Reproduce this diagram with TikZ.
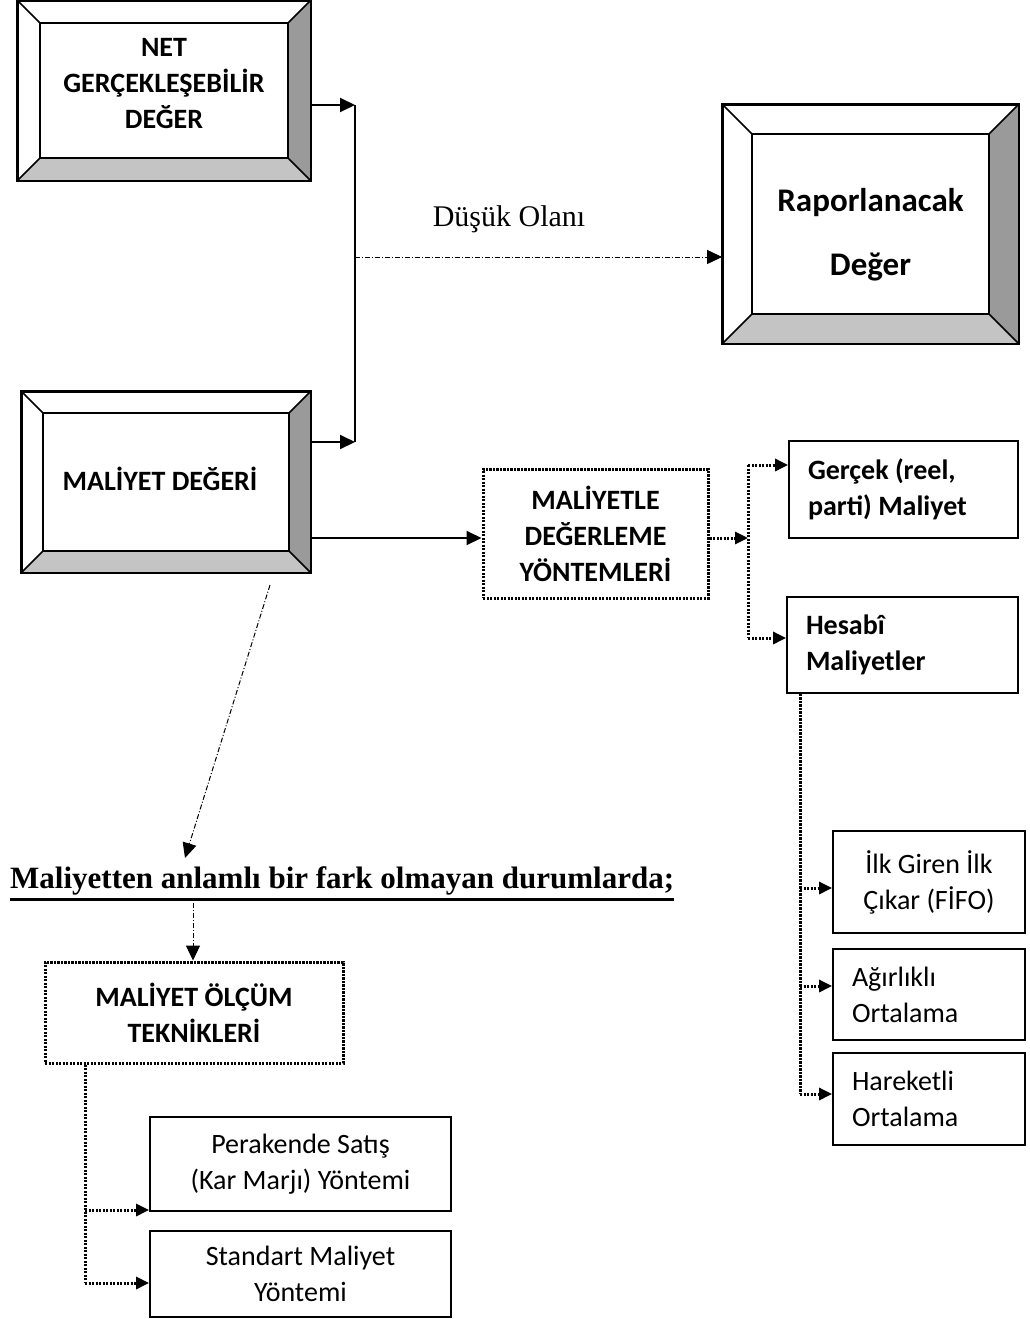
\documentclass[tikz,border=0pt]{standalone}
\usepackage{fontspec}
\setmainfont{Carlito}
\newfontfamily\serif{Liberation Serif}
\usetikzlibrary{arrows.meta}
\definecolor{bevdark}{HTML}{9A9A9A}
\definecolor{bevlight}{HTML}{C4C4C4}
\newcommand\bevelframe[2]{%
  \fill[bevdark] (#1.north east) -- ([shift={(-#2pt,-#2pt)}]#1.north east) -- ([shift={(-#2pt,#2pt)}]#1.south east) -- (#1.south east) -- cycle;
  \fill[bevlight] (#1.south west) -- ([shift={(#2pt,#2pt)}]#1.south west) -- ([shift={(-#2pt,#2pt)}]#1.south east) -- (#1.south east) -- cycle;
  \draw[line width=1.8pt] ([shift={(#2pt,-#2pt)}]#1.north west) rectangle ([shift={(-#2pt,#2pt)}]#1.south east);
  \draw[line width=1.5pt] (#1.north west) -- ++(#2pt,-#2pt);
  \draw[line width=1.5pt] (#1.north east) -- ++(-#2pt,-#2pt);
  \draw[line width=1.5pt] (#1.south west) -- ++(#2pt,#2pt);
  \draw[line width=1.5pt] (#1.south east) -- ++(-#2pt,#2pt);
  \draw[line width=1.8pt] (#1.north west) rectangle (#1.south east);
}
\begin{document}
\begin{tikzpicture}[x=1pt,y=-1pt,
  bev/.style={draw, line width=1.8pt, fill=white, inner sep=0pt},
  bevtext/.style={inner sep=0pt, align=center, font=\bfseries\fontsize{28}{36}\selectfont},
  plainbox/.style={draw, line width=1.8pt, inner sep=0pt, align=center,
    font=\fontsize{28}{36}\selectfont},
  boldbox/.style={plainbox, font=\bfseries\fontsize{28}{36}\selectfont},
  dotbox/.style={draw, line width=3pt, dash pattern=on 2.4pt off 1.1pt, inner sep=0pt,
    align=center, font=\bfseries\fontsize{28}{36}\selectfont},
  tip/.style={-{Triangle[length=15pt,width=14pt]}},
  stip/.style={-{Triangle[length=13pt,width=12pt]}},
  solidc/.style={line width=2pt},
  dotc/.style={line width=3pt, dash pattern=on 2.4pt off 1.1pt},
  dashdot/.style={line width=1pt, dash pattern=on 5pt off 2pt on 1pt off 2pt}]
\useasboundingbox (0,0) rectangle (1029,1319);

% bevelled boxes
\node[bev, minimum width=292pt, minimum height=179pt] (net) at (164,90.5) {};
\bevelframe{net}{23}
\node[bevtext] (nettext) at (164,84) {NET\\GERÇEKLEŞEBİLİR\\DEĞER};
\node[bev, minimum width=295pt, minimum height=238pt] (rap) at (870.5,224) {};
\bevelframe{rap}{30}
\node[bevtext, font=\bfseries\fontsize{33}{64}\selectfont] (raptext) at (870.5,235)
  {Raporlanacak\\Değer};
\node[bev, minimum width=288pt, minimum height=180pt] (mal) at (166,482) {};
\bevelframe{mal}{22}
\node[bevtext] (maltext) at (160,479) {MALİYET DEĞERİ};

% dotted boxes
\node[dotbox, minimum width=225pt, minimum height=129pt] (yont) at (595.5,533.5)
  {MALİYETLE\\DEĞERLEME\\YÖNTEMLERİ};
\node[dotbox, minimum width=298pt, minimum height=101pt] (olcum) at (194,1012.5)
  {MALİYET ÖLÇÜM\\TEKNİKLERİ};

% plain boxes
\node[boldbox, minimum height=97pt, text width=191pt, inner xsep=19pt, align=flush left] (gercek) at (903.5,489.5)
  {Gerçek (reel,\\parti) Maliyet};
\node[boldbox, minimum height=96pt, text width=193pt, inner xsep=19pt, align=flush left] (hesabi) at (902.5,645)
  {Hesabî\\Maliyetler};
\node[plainbox, minimum width=192pt, minimum height=102pt] (ilk) at (929,882)
  {İlk Giren İlk\\Çıkar (FİFO)};
\node[plainbox, minimum height=91pt, text width=154pt, inner xsep=19pt, align=flush left] (agir) at (929,994.5)
  {Ağırlıklı\\Ortalama};
\node[plainbox, minimum height=92pt, text width=154pt, inner xsep=19pt, align=flush left] (hare) at (929,1099)
  {Hareketli\\Ortalama};
\node[plainbox, minimum width=301pt, minimum height=94pt] (pera) at (300.5,1164)
  {Perakende Satış\\(Kar Marjı) Yöntemi};
\node[plainbox, minimum width=301pt, minimum height=86pt] (stand) at (300.5,1274)
  {Standart Maliyet\\Yöntemi};

% texts
\node[font=\serif\fontsize{30}{36}\selectfont, inner sep=0pt] (dusuk) at (509,219) {Düşük Olanı};
\node[font=\serif\bfseries\fontsize{31}{37}\selectfont, inner sep=0pt, anchor=base west] (title) at (10,888)
  {Maliyetten anlamlı bir fark olmayan durumlarda;};
\draw[line width=3pt] ([yshift=-11pt]title.base west) -- ([yshift=-11pt]title.base east);

% connectors: top
\coordinate (j1) at (355,105);
\coordinate (j2) at (355,442);
\coordinate (j3) at (355,257);
\draw[solidc] (j1) -- (j2);
\draw[solidc,tip] (net.east |- j1) -- (j1);
\draw[solidc,tip] (mal.east |- j2) -- (j2);
\draw[dashdot,tip] (j3) -- (rap.west |- j3);

% maliyet -> yontemler
\coordinate (j4) at (483,538);
\draw[solidc,tip] (mal.east |- j4) -- (yont.west |- j4);

% yontemler -> gercek / hesabi
\coordinate (v1) at (748,538);
\coordinate (v1t) at (748,465);
\coordinate (v1b) at (748,638);
\draw[dotc,stip] (yont.east |- v1) -- (v1);
\draw[dotc] (v1t) -- (v1b);
\draw[dotc,stip] (v1t) -- (gercek.west |- v1t);
\draw[dotc,stip] (v1b) -- (hesabi.west |- v1b);

% hesabi -> methods
\coordinate (a1) at (800,888);
\coordinate (a2) at (800,986);
\coordinate (a3) at (800,1094);
\draw[dotc] (hesabi.south -| a3) -- (a3);
\draw[dotc,stip] (a1) -- (ilk.west |- a1);
\draw[dotc,stip] (a2) -- (agir.west |- a2);
\draw[dotc,stip] (a3) -- (hare.west |- a3);

% maliyet -> title -> olcum
\coordinate (d1) at (270,585);
\coordinate (d2) at (185,858);
\draw[dashdot,tip] (d1) -- (d2);
\coordinate (d3) at (193,903);
\draw[dashdot,tip] (d3) -- (olcum.north -| d3);

% olcum -> techniques
\coordinate (b1) at (85,1210);
\coordinate (b2) at (85,1283);
\draw[dotc] (olcum.south -| b2) -- (b2);
\draw[dotc,stip] (b1) -- (pera.west |- b1);
\draw[dotc,stip] (b2) -- (stand.west |- b2);
\end{tikzpicture}
\end{document}
